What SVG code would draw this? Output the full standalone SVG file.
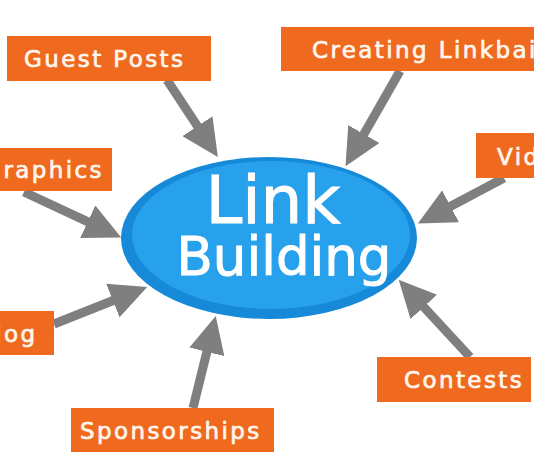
<svg xmlns="http://www.w3.org/2000/svg" width="534" height="462" viewBox="0 0 534 462">
<style>
.box{fill:#ef6a1f}
.lbl{font-family:"DejaVu Sans",sans-serif;font-size:23px;letter-spacing:2.4px;fill:#fff6ee;stroke:#fff6ee;stroke-width:0.7px}
.big{font-family:"DejaVu Sans",sans-serif;fill:#ffffff;stroke:#ffffff;stroke-width:1px;text-anchor:middle}
.arr{stroke:#7f7f7f;stroke-width:9;fill:none;marker-end:url(#head)}
</style>
<defs>
<marker id="head" markerUnits="userSpaceOnUse" markerWidth="37" markerHeight="36" viewBox="0 0 37 36" refX="1" refY="18" orient="auto">
<path d="M0,0 L37,18 L0,36 Z" fill="#7f7f7f"/>
</marker>
</defs>
<rect width="534" height="462" fill="#ffffff"/>
<g id="connectors">
<line class="arr" x1="167" y1="80" x2="198" y2="127"/>
<line class="arr" x1="400" y1="71" x2="363.4" y2="134.9"/>
<line class="arr" x1="24" y1="192" x2="88.6" y2="222.2"/>
<line class="arr" x1="54" y1="324" x2="113.8" y2="300.2"/>
<line class="arr" x1="193" y1="408" x2="207.1" y2="350.9"/>
<line class="arr" x1="470" y1="357" x2="423.1" y2="306.2"/>
<line class="arr" x1="504" y1="178" x2="449.7" y2="206.7"/>
</g>
<g id="center">
<ellipse cx="269" cy="238" rx="148" ry="81" fill="#168ad8"/>
<ellipse cx="271" cy="235" rx="139" ry="74" fill="#27a1ec"/>
<text class="big" x="273" y="223" font-size="66">Link</text>
<text class="big" x="284" y="275" font-size="53">Building</text>
</g>
<g id="guest-posts">
<rect class="box" x="7" y="36" width="204" height="45"/>
<text class="lbl" x="24" y="66.5">Guest Posts</text>
</g>
<g id="creating-linkbait">
<rect class="box" x="281" y="27" width="260" height="44"/>
<text class="lbl" x="312" y="58">Creating Linkbait</text>
</g>
<g id="infographics">
<rect class="box" x="-10" y="148" width="122" height="43"/>
<text class="lbl" x="104" y="177.5" text-anchor="end">Infographics</text>
</g>
<g id="video">
<rect class="box" x="476" y="133" width="70" height="45"/>
<text class="lbl" x="497" y="164.5">Video</text>
</g>
<g id="blog">
<rect class="box" x="-10" y="311" width="64" height="44"/>
<text class="lbl" x="37.5" y="341.5" text-anchor="end">Blog</text>
</g>
<g id="sponsorships">
<rect class="box" x="71" y="408" width="203" height="44"/>
<text class="lbl" x="80" y="438.5">Sponsorships</text>
</g>
<g id="contests">
<rect class="box" x="377" y="357" width="154" height="45"/>
<text class="lbl" x="404" y="388">Contests</text>
</g>
</svg>
